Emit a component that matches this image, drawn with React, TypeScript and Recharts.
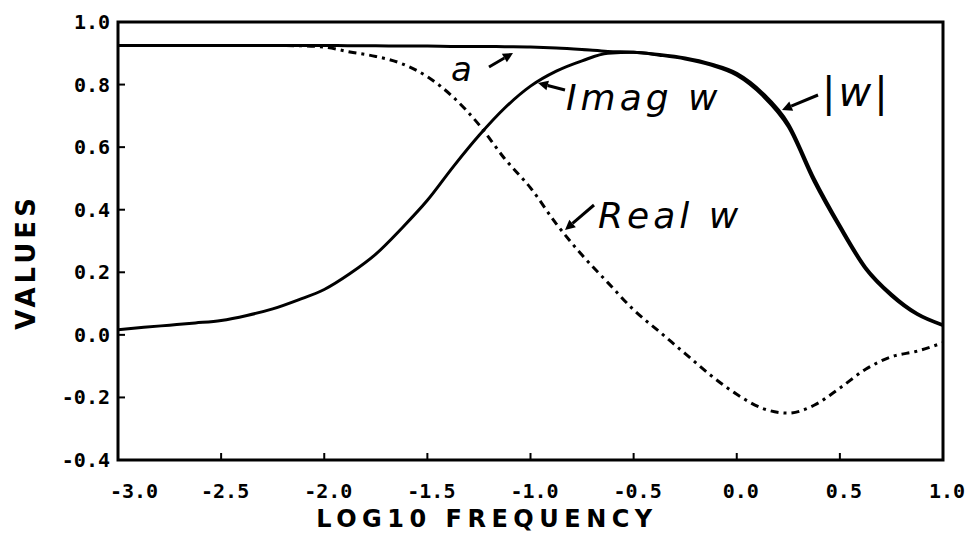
import React from 'react';
import { LineChart, Line, XAxis, YAxis, ReferenceArea } from 'recharts';

const freq = [
  -3.0, -2.875, -2.75, -2.625, -2.5, -2.375, -2.25, -2.125, -2.0, -1.875, -1.75,
  -1.625, -1.5, -1.375, -1.25, -1.125, -1.0, -0.875, -0.75, -0.625, -0.5, -0.375,
  -0.25, -0.125, 0.0, 0.125, 0.25, 0.375, 0.5, 0.625, 0.75, 0.875, 1.0,
];

const imagW = [
  0.016, 0.024, 0.031, 0.038, 0.046, 0.062, 0.083, 0.112, 0.145, 0.196, 0.258,
  0.34, 0.43, 0.537, 0.637, 0.725, 0.795, 0.843, 0.876, 0.9, 0.903, 0.894,
  0.882, 0.862, 0.83, 0.765, 0.665, 0.49, 0.342, 0.21, 0.125, 0.065, 0.03,
];

const absW = [
  0.925, 0.925, 0.925, 0.925, 0.925, 0.925, 0.925, 0.925, 0.925, 0.924, 0.924,
  0.923, 0.923, 0.922, 0.922, 0.921, 0.92, 0.917, 0.912, 0.906, 0.903, 0.896,
  0.885, 0.866, 0.836, 0.773, 0.675, 0.5, 0.35, 0.216, 0.13, 0.068, 0.032,
];

const realW = [
  0.925, 0.925, 0.925, 0.925, 0.925, 0.925, 0.925, 0.924, 0.92, 0.904, 0.89,
  0.867, 0.825, 0.76, 0.672, 0.563, 0.47, 0.355, 0.255, 0.167, 0.08, 0.01,
  -0.06, -0.13, -0.19, -0.235, -0.25, -0.225, -0.17, -0.11, -0.07, -0.052, -0.025,
];

const xTicks = [-3.0, -2.5, -2.0, -1.5, -1.0, -0.5, 0.0, 0.5, 1.0];
const yTicks = [-0.4, -0.2, 0.0, 0.2, 0.4, 0.6, 0.8, 1.0];

const data = freq.map((f, i) => ({ f, imag: imagW[i], abs: absW[i], real: realW[i] }));

const tickFont = {
  fontFamily: '"DejaVu Sans Mono", monospace',
  fontWeight: 700,
  fontSize: 20,
  fill: '#000',
};

const fmt = (v: number) => (Math.abs(v) < 1e-9 ? '0.0' : v.toFixed(1));

const BottomTick = (props: any) => {
  const { x, y, payload } = props;
  const shift = payload.value === -3 ? 16 : 4;
  return (
    <g>
      <line x1={x} y1={y} x2={x} y2={y - 7} stroke="#000" strokeWidth={2} />
      <text x={x + shift} y={y + 38} textAnchor="middle" {...tickFont}>
        {fmt(payload.value)}
      </text>
    </g>
  );
};

const TopTick = (props: any) => {
  const { x, y } = props;
  return <line x1={x} y1={y} x2={x} y2={y + 7} stroke="#000" strokeWidth={2} />;
};

const LeftTick = (props: any) => {
  const { x, y, payload } = props;
  return (
    <g>
      <line x1={x} y1={y} x2={x + 7} y2={y} stroke="#000" strokeWidth={2} />
      <text x={x - 8} y={y + 7} textAnchor="end" {...tickFont}>
        {fmt(payload.value)}
      </text>
    </g>
  );
};

const RightTick = (props: any) => {
  const { x, y } = props;
  return <line x1={x} y1={y} x2={x - 7} y2={y} stroke="#000" strokeWidth={2} />;
};

const handFont = {
  fontFamily: '"DejaVu Sans", sans-serif',
  fontStyle: 'italic' as const,
  fill: '#000',
};

const Arrow = ({ x1, y1, x2, y2 }: { x1: number; y1: number; x2: number; y2: number }) => {
  const ang = Math.atan2(y2 - y1, x2 - x1);
  const L = 10;
  const W = 5;
  const bx = x2 - L * Math.cos(ang);
  const by = y2 - L * Math.sin(ang);
  const px = -Math.sin(ang) * W;
  const py = Math.cos(ang) * W;
  return (
    <g>
      <line x1={x1} y1={y1} x2={bx} y2={by} stroke="#000" strokeWidth={3} />
      <polygon points={`${x2},${y2} ${bx + px},${by + py} ${bx - px},${by - py}`} fill="#000" />
    </g>
  );
};

export default function App() {
  return (
    <div style={{ position: 'absolute', left: 0, top: 0, width: 969, height: 534, background: '#fff' }}>
      <LineChart width={969} height={534} data={data} margin={{ top: 22, right: 26, bottom: 0, left: 0 }}>
        <XAxis
          dataKey="f"
          type="number"
          domain={[-3, 1]}
          ticks={xTicks}
          height={74}
          axisLine={false}
          tickLine={false}
          tickSize={0}
          tickMargin={0}
          tick={<BottomTick />}
          allowDataOverflow
        />
        <XAxis
          xAxisId="top"
          dataKey="f"
          type="number"
          orientation="top"
          domain={[-3, 1]}
          ticks={xTicks}
          height={0}
          axisLine={false}
          tickLine={false}
          tickSize={0}
          tickMargin={0}
          tick={<TopTick />}
          allowDataOverflow
        />
        <YAxis
          type="number"
          domain={[-0.4, 1]}
          ticks={yTicks}
          width={118}
          axisLine={false}
          tickLine={false}
          tickSize={0}
          tickMargin={0}
          tick={<LeftTick />}
          allowDataOverflow
        />
        <YAxis
          yAxisId="right"
          type="number"
          orientation="right"
          domain={[-0.4, 1]}
          ticks={yTicks}
          width={0}
          axisLine={false}
          tickLine={false}
          tickSize={0}
          tickMargin={0}
          tick={<RightTick />}
          allowDataOverflow
        />
        <ReferenceArea x1={-3} x2={1} y1={-0.4} y2={1} fill="none" stroke="#000" strokeWidth={3} ifOverflow="visible" />
        <Line dataKey="abs" type="monotone" stroke="#000" strokeWidth={3} dot={false} isAnimationActive={false} />
        <Line dataKey="imag" type="monotone" stroke="#000" strokeWidth={3} dot={false} isAnimationActive={false} />
        <Line
          dataKey="real"
          xAxisId="top"
          yAxisId="right"
          type="monotone"
          stroke="#000"
          strokeWidth={3}
          strokeDasharray="8 5 3 5"
          dot={false}
          isAnimationActive={false}
        />
      </LineChart>
      <svg
        width={969}
        height={534}
        style={{ position: 'absolute', left: 0, top: 0, pointerEvents: 'none' }}
      >
        <text
          x={26}
          y={262}
          transform="rotate(-90 26 262)"
          textAnchor="middle"
          dominantBaseline="central"
          fontFamily='"DejaVu Sans", sans-serif'
          fontWeight={700}
          fontSize={26}
          letterSpacing={4}
        >
          VALUES
        </text>
        <text
          x={487}
          y={527}
          textAnchor="middle"
          fontFamily='"DejaVu Sans", sans-serif'
          fontWeight={700}
          fontSize={24}
          letterSpacing={5.5}
        >
          LOG10 FREQUENCY
        </text>
        <text x={451} y={81} fontSize={34} {...handFont}>a</text>
        <Arrow x1={489} y1={67} x2={513} y2={53} />
        <text x={566} y={110} fontSize={36} letterSpacing={4} {...handFont}>Imag w</text>
        <Arrow x1={565} y1={90} x2={538} y2={83} />
        <text x={822} y={106} fontSize={40} letterSpacing={3} {...handFont}>|w|</text>
        <Arrow x1={818} y1={95} x2={782} y2={110} />
        <text x={598} y={228} fontSize={36} letterSpacing={4} {...handFont}>Real w</text>
        <Arrow x1={594} y1={205} x2={565} y2={230} />
      </svg>
    </div>
  );
}
